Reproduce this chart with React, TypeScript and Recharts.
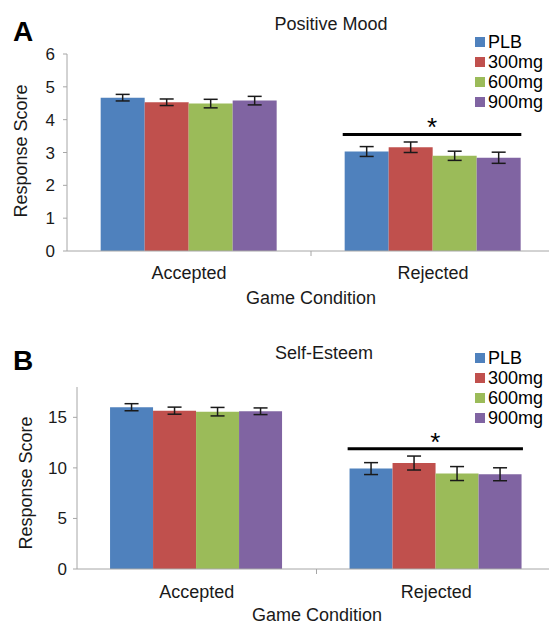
import { Bar, BarChart, ErrorBar, ReferenceArea, ReferenceLine, XAxis, YAxis } from "recharts";

const categories = ["Accepted", "Rejected"];
const doses = ["PLB", "300mg", "600mg", "900mg"];
const doseColors = ["#4f81bd", "#c0504d", "#9bbb59", "#8064a2"];

// Positive Mood
const moodPlb = [4.67, 3.03];
const mood300 = [4.53, 3.16];
const mood600 = [4.49, 2.9];
const mood900 = [4.58, 2.84];
const moodPlbErr = [0.1, 0.15];
const mood300Err = [0.1, 0.16];
const mood600Err = [0.13, 0.14];
const mood900Err = [0.13, 0.17];
const moodTicks = [0, 1, 2, 3, 4, 5, 6];
const moodSig = 3.55;

// Self-Esteem
const esteemPlb = [16.0, 9.93];
const esteem300 = [15.66, 10.48];
const esteem600 = [15.56, 9.44];
const esteem900 = [15.6, 9.37];
const esteemPlbErr = [0.35, 0.59];
const esteem300Err = [0.35, 0.69];
const esteem600Err = [0.42, 0.69];
const esteem900Err = [0.33, 0.64];
const esteemTicks = [0, 5, 10, 15];
const esteemSig = 11.9;

const sigCategory = "Rejected";

const FONT = "'Liberation Sans', Arial, sans-serif";
const AXIS = "#a6a6a6";
const GAP = 0.138;
const CHART_W = 570; // plot runs past the right edge, as in the cropped original

function buildRows(values: number[][], errors: number[][]) {
  return categories.map((name, i) => {
    const row: Record<string, string | number> = { name };
    doses.forEach((d, j) => {
      row[d] = values[j][i];
      row[d + "_err"] = errors[j][i];
    });
    return row;
  });
}

// bracket over the bar group, drawn from the band the area gets
function SigBracket(props: any) {
  const { x, y, width } = props;
  const x1 = x + width * (GAP - 0.008);
  const x2 = x + width * (1 - GAP);
  return (
    <g>
      <line x1={x1} x2={x2} y1={y} y2={y} stroke="#000" strokeWidth={3} />
      <text x={(x1 + x2) / 2} y={y + 2} textAnchor="middle" fontSize={26} fontFamily={FONT} fill="#000">
        *
      </text>
    </g>
  );
}

// Excel style tick between categories
function BoundaryTick(props: any) {
  const { x1, y1, y2 } = props;
  const bottom = Math.max(y1, y2);
  return <line x1={x1} x2={x1} y1={bottom} y2={bottom + 5} stroke={AXIS} strokeWidth={1} />;
}

function DoseLegend({ top }: { top: number }) {
  return (
    <div
      style={{
        position: "absolute",
        left: 475,
        top,
        fontFamily: FONT,
        fontSize: 18,
        lineHeight: "20px",
        color: "#000",
        whiteSpace: "nowrap",
      }}
    >
      {doses.map((d, j) => (
        <div key={d} style={{ display: "flex", alignItems: "center" }}>
          <span style={{ width: 10, height: 10, background: doseColors[j], marginRight: 3, flex: "none" }} />
          {d}
        </div>
      ))}
    </div>
  );
}

type PanelProps = {
  top: number;
  height: number;
  letter: string;
  title: string;
  titleX: number;
  titleY: number;
  rows: Record<string, string | number>[];
  ticks: number[];
  max: number;
  sig: number;
  marginTop: number;
  marginRight: number;
  axisWidth: number;
  yTickMargin: number;
  catHeight: number;
  legendTop: number;
  tickMargin: number;
  scoreX: number;
  scoreY: number;
  conditionX: number;
  conditionY: number;
};

function Panel(p: PanelProps) {
  return (
    <div style={{ position: "absolute", left: 0, top: p.top, width: 549, height: p.height, overflow: "hidden" }}>
      <BarChart
        width={CHART_W}
        height={p.height}
        data={p.rows}
        margin={{ top: p.marginTop, right: p.marginRight, bottom: 0, left: 0 }}
        barCategoryGap={`${GAP * 100}%`}
        barGap={0}
      >
        <XAxis
          dataKey="name"
          stroke={AXIS}
          tickLine={false}
          tickMargin={p.tickMargin}
          height={p.catHeight}
          tick={{ fontSize: 18, fill: "#1a1a1a", fontFamily: FONT }}
        />
        <YAxis
          width={p.axisWidth}
          domain={[0, p.max]}
          ticks={p.ticks}
          interval={0}
          tickSize={4}
          tickMargin={p.yTickMargin}
          stroke={AXIS}
          tick={{ fontSize: 17, fill: "#1a1a1a", fontFamily: FONT }}
        />
        {doses.map((d, j) => (
          <Bar key={d} dataKey={d} fill={doseColors[j]} isAnimationActive={false}>
            <ErrorBar dataKey={d + "_err"} width={7} stroke="#1a1a1a" strokeWidth={1.5} />
          </Bar>
        ))}
        <ReferenceLine x={sigCategory} position="start" ifOverflow="visible" shape={BoundaryTick} />
        <ReferenceArea
          x1={sigCategory}
          x2={sigCategory}
          y1={p.sig}
          y2={p.sig}
          ifOverflow="visible"
          shape={SigBracket}
        />
      </BarChart>
      <DoseLegend top={p.legendTop} />
      <div style={{ position: "absolute", left: 13, top: p.titleY - 6, fontSize: 28, fontWeight: "bold", fontFamily: FONT, lineHeight: 1 }}>
        {p.letter}
      </div>
      <div style={{ position: "absolute", left: p.titleX - 100, width: 200, textAlign: "center", top: p.titleY - 10, fontSize: 18, lineHeight: "20px", fontFamily: FONT, color: "#1a1a1a" }}>
        {p.title}
      </div>
      <div style={{ position: "absolute", left: p.conditionX - 100, width: 200, textAlign: "center", top: p.conditionY - 10, fontSize: 18, lineHeight: "20px", fontFamily: FONT, color: "#1a1a1a" }}>
        Game Condition
      </div>
      <div
        style={{
          position: "absolute",
          left: p.scoreX - 100,
          width: 200,
          textAlign: "center",
          top: p.scoreY - 10,
          fontSize: 18,
          lineHeight: "20px",
          fontFamily: FONT,
          color: "#1a1a1a",
          transform: "rotate(-90deg)",
        }}
      >
        Response Score
      </div>
    </div>
  );
}

export default function App() {
  const moodRows = buildRows([moodPlb, mood300, mood600, mood900], [moodPlbErr, mood300Err, mood600Err, mood900Err]);
  const esteemRows = buildRows(
    [esteemPlb, esteem300, esteem600, esteem900],
    [esteemPlbErr, esteem300Err, esteem600Err, esteem900Err]
  );
  return (
    <div style={{ position: "absolute", left: 0, top: 0, width: 549, height: 624, background: "#fff", overflow: "hidden" }}>
      <Panel
        top={0}
        height={310}
        letter="A"
        title="Positive Mood"
        titleX={331}
        titleY={24}
        rows={moodRows}
        ticks={moodTicks}
        max={6}
        sig={moodSig}
        marginTop={54}
        marginRight={CHART_W - 555}
        axisWidth={67}
        yTickMargin={8}
        catHeight={59}
        legendTop={32}
        tickMargin={9}
        scoreX={21}
        scoreY={151}
        conditionX={311}
        conditionY={298}
      />
      <Panel
        top={310}
        height={314}
        letter="B"
        title="Self-Esteem"
        titleX={324}
        titleY={43}
        rows={esteemRows}
        ticks={esteemTicks}
        max={18}
        sig={esteemSig}
        marginTop={77}
        marginRight={CHART_W - 556}
        axisWidth={77}
        yTickMargin={6}
        catHeight={55}
        legendTop={38}
        tickMargin={10}
        scoreX={26}
        scoreY={173}
        conditionX={317}
        conditionY={305}
      />
    </div>
  );
}
